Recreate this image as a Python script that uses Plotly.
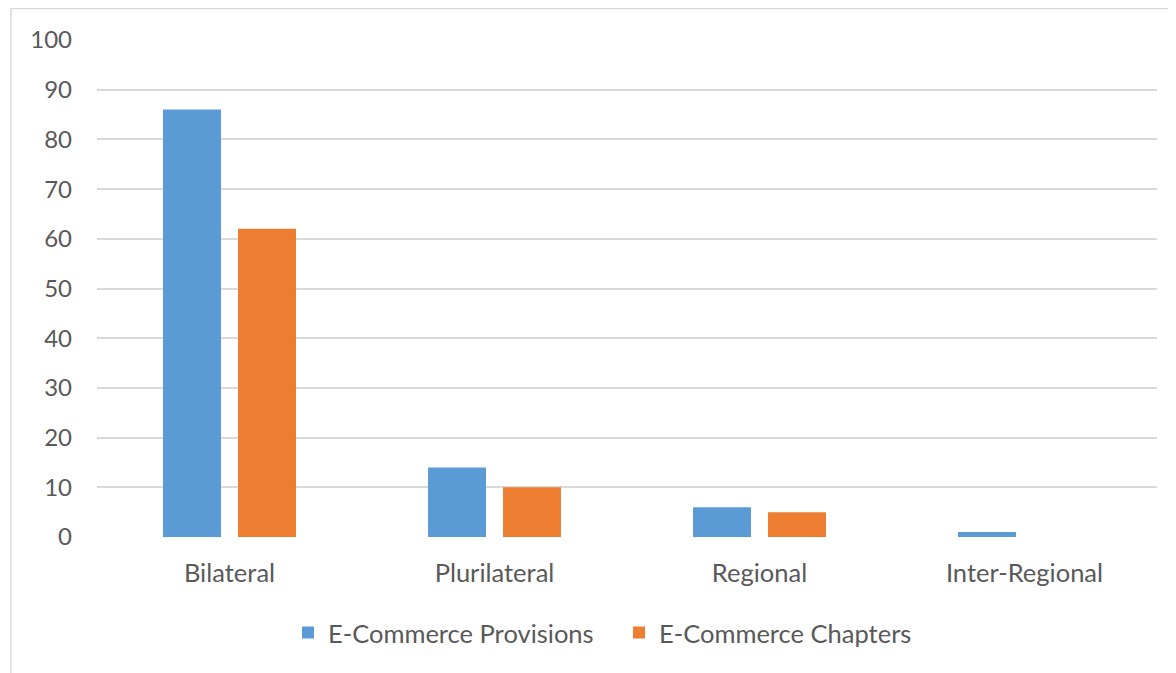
import plotly.graph_objects as go

categories = ["Bilateral", "Plurilateral", "Regional", "Inter-Regional"]
provisions = [86, 14, 6, 1]
chapters = [62, 10, 5, 0]
y_ticks = [0, 10, 20, 30, 40, 50, 60, 70, 80, 90, 100]

OFF = 8  # page body margin
W, H = 1176, 673
L, R, T, B = 97 - OFF, 1157 - OFF, 40 - OFF, 537 - OFF

fig = go.Figure()
fig.add_trace(go.Bar(name="E-Commerce Provisions", x=categories, y=provisions,
                     marker=dict(color="#5B9BD5", line=dict(width=0))))
fig.add_trace(go.Bar(name="E-Commerce Chapters", x=categories, y=chapters,
                     marker=dict(color="#ED7D31", line=dict(width=0))))

def px(x):
    return (x - OFF - L) / (R - L)

def py(y):
    return (B - (y - OFF)) / (B - T)

tick_font = dict(family="Lato, 'Open Sans', sans-serif", size=24, color="#595959")
text_font = dict(family="Lato, 'Open Sans', sans-serif", size=25.5, color="#595959")

fig.update_layout(
    width=W, height=H,
    margin=dict(l=L, r=W - R, t=T, b=H - B, autoexpand=False),
    paper_bgcolor="white", plot_bgcolor="white",
    barmode="group", bargap=0.434, bargroupgap=0.227,
    font=text_font,
    showlegend=True,
    legend=dict(orientation="h", x=px(619), y=py(633), xanchor="center", yanchor="middle",
                font=text_font, itemwidth=30, entrywidth=286, entrywidthmode="pixels"),
    xaxis=dict(showgrid=False, showline=False, zeroline=False, ticks="",
               tickfont=text_font, ticklabelstandoff=18),
    yaxis=dict(range=[0, 100], tickvals=y_ticks, showgrid=True, gridcolor="#D9D9D9",
               gridwidth=1.5, zeroline=False, showline=False, ticks="",
               tickfont=tick_font, ticklabelstandoff=24),
    shapes=[dict(type="rect", xref="paper", yref="paper",
                 x0=px(11), x1=px(1195), y0=py(700), y1=py(8.5),
                 line=dict(color="#D9D9D9", width=1.5), layer="below")],
)

fig.write_html("out.html")
